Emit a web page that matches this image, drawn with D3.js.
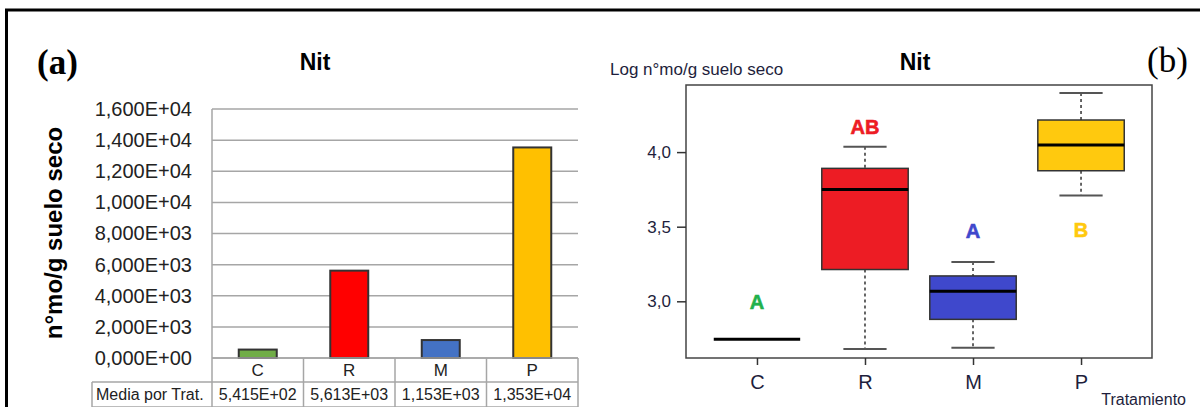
<!DOCTYPE html>
<html>
<head>
<meta charset="utf-8">
<script src="https://cdn.jsdelivr.net/npm/d3@7"></script>
<style>
  html, body { margin: 0; padding: 0; background: #fff; }
  svg { display: block; }
  text { font-family: "Liberation Sans", Arial, sans-serif; }
</style>
</head>
<body>
<svg id="chart" width="1200" height="407"></svg>
<script>
// ---------- data ----------
const categories = ["C", "R", "M", "P"];
const meanValues = [541.5, 5613, 1153, 13530];
const barColors = ["#70ad47", "#ff0000", "#4472c4", "#ffc000"];
const yTicksA = [0, 2000, 4000, 6000, 8000, 10000, 12000, 14000, 16000];
const tableRowLabel = "Media por Trat.";

const whiskerLow  = [2.745, 2.680, 2.689, 3.709];
const q1          = [2.745, 3.213, 2.879, 3.875];
const medians     = [2.745, 3.750, 3.067, 4.047];
const q3          = [2.745, 3.891, 3.170, 4.215];
const whiskerHigh = [2.745, 4.036, 3.264, 4.396];
const boxColors   = ["#22b14c", "#ed1c24", "#3f48cc", "#ffc90e"];
const groupLetters = ["A", "AB", "A", "B"];
const letterValues = [3.0, 4.17, 3.47, 3.48];
const letterColors = ["#22b14c", "#ed1c24", "#3f48cc", "#ffc90e"];
const yTicksB = [3.0, 3.5, 4.0];

// ---------- helpers ----------
function sciFmt(v) {
  const s = v.toExponential(3);            // e.g. 1.600e+4
  const [m, e] = s.split("e");
  const sign = e[0] === "-" ? "-" : "+";
  const ex = Math.abs(parseInt(e, 10)).toString().padStart(2, "0");
  return m.replace(".", ",") + "E" + sign + ex;
}
const commaFmt = v => d3.format(".1f")(v).replace(".", ",");

const svg = d3.select("#chart");

// outer border
svg.append("line").attr("x1", 5).attr("x2", 1200).attr("y1", 10).attr("y2", 10)
  .attr("stroke", "#000").attr("stroke-width", 3);
svg.append("line").attr("x1", 6.5).attr("x2", 6.5).attr("y1", 9).attr("y2", 407)
  .attr("stroke", "#000").attr("stroke-width", 3);

// ================= Panel (a) =================
const A = { left: 212, right: 578, top: 109, bottom: 358 };
const xA = d3.scaleBand().domain(categories).range([A.left, A.right]);
const yA = d3.scaleLinear().domain([0, 16000]).range([A.bottom, A.top]);

const gA = svg.append("g");

// gridlines
gA.append("g").selectAll("line").data(yTicksA).join("line")
  .attr("x1", A.left).attr("x2", A.right)
  .attr("y1", d => yA(d)).attr("y2", d => yA(d))
  .attr("stroke", "#a6a6a6").attr("stroke-width", 1.5);

// left axis line
gA.append("line").attr("x1", A.left).attr("x2", A.left)
  .attr("y1", A.top).attr("y2", A.bottom)
  .attr("stroke", "#a6a6a6").attr("stroke-width", 1.5);

// y axis labels via d3.axisLeft
const axA = d3.axisLeft(yA).tickValues(yTicksA).tickFormat(sciFmt).tickSize(0).tickPadding(20);
const axAg = gA.append("g").attr("transform", `translate(${A.left},0)`).call(axA);
axAg.select(".domain").remove();
axAg.selectAll("text").attr("font-size", 20).attr("fill", "#222")
  .attr("font-family", "'Liberation Sans', Arial, sans-serif");

// bars
const barW = 38;
gA.append("g").selectAll("rect").data(categories).join("rect")
  .attr("x", d => xA(d) + xA.bandwidth() / 2 - barW / 2)
  .attr("width", barW)
  .attr("y", (d, i) => yA(meanValues[i]))
  .attr("height", (d, i) => yA(0) - yA(meanValues[i]))
  .attr("fill", (d, i) => barColors[i])
  .attr("stroke", "#333").attr("stroke-width", 2);

// data table
const row1Top = A.bottom, row1Bot = 382, row2Bot = 409;
const tableStroke = "#a6a6a6";
const tG = gA.append("g");
tG.append("line").attr("x1", A.left).attr("x2", A.right).attr("y1", row1Top).attr("y2", row1Top)
  .attr("stroke", tableStroke).attr("stroke-width", 1.5);
tG.append("line").attr("x1", 92).attr("x2", A.right).attr("y1", row1Bot).attr("y2", row1Bot)
  .attr("stroke", tableStroke).attr("stroke-width", 1.5);
tG.append("line").attr("x1", 92).attr("x2", A.right).attr("y1", row2Bot - 2).attr("y2", row2Bot - 2)
  .attr("stroke", tableStroke).attr("stroke-width", 1.5);
const colEdges = categories.map(c => xA(c)).concat([A.right]);
tG.selectAll("line.v").data(colEdges).join("line").attr("class", "v")
  .attr("x1", d => d).attr("x2", d => d).attr("y1", row1Top).attr("y2", row2Bot)
  .attr("stroke", tableStroke).attr("stroke-width", 1.5);
tG.append("line").attr("x1", 92).attr("x2", 92).attr("y1", row1Bot).attr("y2", row2Bot)
  .attr("stroke", tableStroke).attr("stroke-width", 1.5);
tG.selectAll("text.cat").data(categories).join("text").attr("class", "cat")
  .attr("x", d => xA(d) + xA.bandwidth() / 2).attr("y", 376)
  .attr("text-anchor", "middle").attr("font-size", 17).attr("fill", "#222")
  .text(d => d);
tG.selectAll("text.val").data(meanValues).join("text").attr("class", "val")
  .attr("x", (d, i) => xA(categories[i]) + xA.bandwidth() / 2).attr("y", 400)
  .attr("text-anchor", "middle").attr("font-size", 16).attr("fill", "#222")
  .text(d => sciFmt(d));
tG.append("text").attr("x", 96).attr("y", 400).attr("font-size", 16).attr("fill", "#222")
  .text(tableRowLabel);

// y-axis title
gA.append("text")
  .attr("transform", "translate(62,233) rotate(-90)")
  .attr("text-anchor", "middle").attr("font-size", 24).attr("font-weight", "bold")
  .attr("fill", "#000").text("n°mo/g suelo seco");

// title and panel tag
gA.append("text").attr("x", 315).attr("y", 70).attr("text-anchor", "middle")
  .attr("font-size", 23).attr("font-weight", "bold").attr("fill", "#000").text("Nit");
gA.append("text").attr("x", 37).attr("y", 74)
  .style("font-family", "'Liberation Serif', 'Times New Roman', serif")
  .attr("font-size", 35).attr("font-weight", "bold").attr("fill", "#000").text("(a)");

// ================= Panel (b) =================
const B = { left: 686, right: 1152, top: 85, bottom: 358 };
const xB = d3.scaleLinear().domain([0.343, 4.657]).range([B.left, B.right]);
const yB = d3.scaleLinear().domain([2.62, 4.4497]).range([B.bottom, B.top]);
const gB = svg.append("g");

const boxW = xB(1.4) - xB(1.0);
const capW = xB(1.2) - xB(1.0);

categories.forEach((c, i) => {
  const cx = xB(i + 1);
  const g = gB.append("g");
  if (q3[i] - q1[i] > 0.0001) {
    g.append("line").attr("x1", cx).attr("x2", cx)
      .attr("y1", yB(whiskerHigh[i])).attr("y2", yB(q3[i]))
      .attr("stroke", "#333").attr("stroke-width", 1.5).attr("stroke-dasharray", "3,3");
    g.append("line").attr("x1", cx).attr("x2", cx)
      .attr("y1", yB(q1[i])).attr("y2", yB(whiskerLow[i]))
      .attr("stroke", "#333").attr("stroke-width", 1.5).attr("stroke-dasharray", "3,3");
    [whiskerHigh[i], whiskerLow[i]].forEach(v => {
      g.append("line").attr("x1", cx - capW).attr("x2", cx + capW)
        .attr("y1", yB(v)).attr("y2", yB(v))
        .attr("stroke", "#555").attr("stroke-width", 2);
    });
    g.append("rect").attr("x", cx - boxW).attr("width", 2 * boxW)
      .attr("y", yB(q3[i])).attr("height", yB(q1[i]) - yB(q3[i]))
      .attr("fill", boxColors[i]).attr("stroke", "#333").attr("stroke-width", 1.5);
  }
  g.append("line").attr("x1", cx - boxW).attr("x2", cx + boxW)
    .attr("y1", yB(medians[i])).attr("y2", yB(medians[i]))
    .attr("stroke", "#000").attr("stroke-width", 3);
  g.append("text").attr("x", cx).attr("y", yB(letterValues[i])).attr("dy", "0.36em")
    .attr("text-anchor", "middle").attr("font-size", 20).attr("font-weight", "bold")
    .attr("fill", letterColors[i]).attr("stroke", letterColors[i]).attr("stroke-width", 0.6)
    .text(groupLetters[i]);
});

gB.append("rect").attr("x", B.left).attr("y", B.top)
  .attr("width", B.right - B.left).attr("height", B.bottom - B.top)
  .attr("fill", "none").attr("stroke", "#444").attr("stroke-width", 1.5);

const axB = d3.axisLeft(yB).tickValues(yTicksB).tickFormat(commaFmt).tickSize(9).tickPadding(6);
const axBg = gB.append("g").attr("transform", `translate(${B.left},0)`).call(axB);
axBg.select(".domain").remove();
axBg.selectAll("line").attr("stroke", "#333").attr("stroke-width", 1.5);
axBg.selectAll("text").attr("font-size", 17).attr("fill", "#1e1e3c")
  .attr("font-family", "'Liberation Sans', Arial, sans-serif");

const axBx = d3.axisBottom(xB).tickValues([1, 2, 3, 4]).tickFormat((d, i) => categories[i])
  .tickSize(7).tickPadding(10);
const axBxg = gB.append("g").attr("transform", `translate(0,${B.bottom})`).call(axBx);
axBxg.select(".domain").remove();
axBxg.selectAll("line").attr("stroke", "#333").attr("stroke-width", 1.5);
axBxg.selectAll("text").attr("font-size", 20).attr("fill", "#1e1e3c")
  .attr("font-family", "'Liberation Sans', Arial, sans-serif");

gB.append("text").attr("x", 915).attr("y", 70).attr("text-anchor", "middle")
  .attr("font-size", 23).attr("font-weight", "bold").attr("fill", "#000").text("Nit");
gB.append("text").attr("x", 610).attr("y", 75).attr("font-size", 17).attr("fill", "#1e1e3c")
  .text("Log n°mo/g suelo seco");
gB.append("text").attr("x", 1186).attr("y", 405).attr("text-anchor", "end")
  .attr("font-size", 16).attr("fill", "#1e1e3c").text("Tratamiento");
gB.append("text").attr("x", 1147).attr("y", 72)
  .style("font-family", "'Liberation Serif', 'Times New Roman', serif")
  .attr("font-size", 35).attr("fill", "#000").text("(b)");
</script>
</body>
</html>
